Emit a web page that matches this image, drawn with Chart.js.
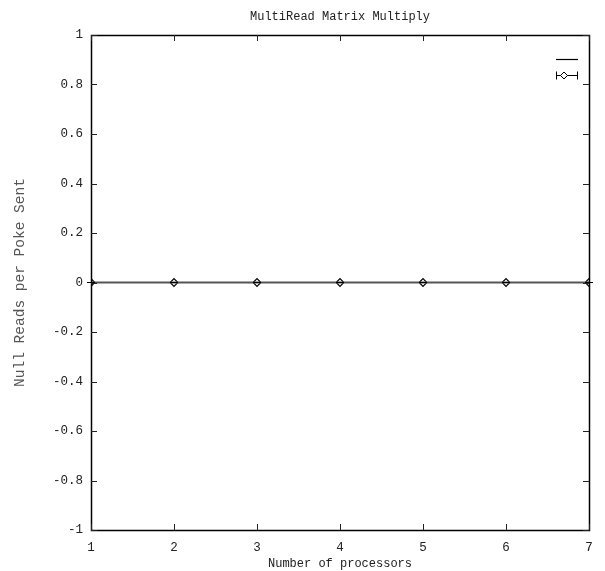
<!DOCTYPE html>
<html>
<head>
<meta charset="utf-8">
<script src="https://cdn.jsdelivr.net/npm/chart.js@4.4.0/dist/chart.umd.min.js"></script>
<style>
  html, body { margin: 0; padding: 0; background: #fff; }
  #wrap { width: 605px; height: 571px; }
</style>
</head>
<body>
<div id="wrap"><canvas id="c" width="605" height="571"></canvas></div>
<script>
const chartTitle = "MultiRead Matrix Multiply";
const xTitle = "Number of processors";
const yTitle = "Null Reads per Poke Sent";
const processors = [1, 2, 3, 4, 5, 6, 7];
const lineValues = [0, 0, 0, 0, 0, 0, 0];
const pointValues = [0, 0, 0, 0, 0, 0, 0];
const pointErrors = [0, 0, 0, 0, 0, 0, 0];
const seriesNames = ["", ""];
const xTicks = [1, 2, 3, 4, 5, 6, 7];
const yTicks = [-1, -0.8, -0.6, -0.4, -0.2, 0, 0.2, 0.4, 0.6, 0.8, 1];

const MONO = "'Liberation Mono', 'DejaVu Sans Mono', monospace";

const framePlugin = {
  id: 'frame',
  afterDatasetsDraw(chart) {
    const ctx = chart.ctx;
    const a = chart.chartArea;
    const xs = chart.scales.x, ys = chart.scales.y;
    ctx.save();
    // error bars for dataset 2
    ctx.strokeStyle = '#000';
    ctx.lineWidth = 1;
    pointValues.forEach((v, i) => {
      const px = xs.getPixelForValue(processors[i]);
      const yl = ys.getPixelForValue(v - pointErrors[i]);
      const yh = ys.getPixelForValue(v + pointErrors[i]);
      ctx.beginPath();
      ctx.moveTo(px, yl); ctx.lineTo(px, yh);
      ctx.moveTo(px - 4, yl); ctx.lineTo(px + 4, yl);
      ctx.moveTo(px - 4, yh); ctx.lineTo(px + 4, yh);
      ctx.stroke();
    });
    // frame
    ctx.strokeStyle = '#000';
    ctx.lineWidth = 1.5;
    ctx.strokeRect(Math.round(a.left) + 0.5, Math.round(a.top) + 0.5, Math.round(a.right - a.left), Math.round(a.bottom - a.top));
    // inward ticks
    ctx.lineWidth = 1;
    ctx.strokeStyle = '#222';
    const tl = 6;
    xTicks.forEach(t => {
      const px = Math.round(xs.getPixelForValue(t)) + 0.5;
      ctx.beginPath();
      ctx.moveTo(px, a.bottom); ctx.lineTo(px, a.bottom - tl);
      ctx.moveTo(px, a.top); ctx.lineTo(px, a.top + tl);
      ctx.stroke();
    });
    yTicks.forEach(t => {
      const py = Math.round(ys.getPixelForValue(t)) + 0.5;
      ctx.beginPath();
      ctx.moveTo(a.left, py); ctx.lineTo(a.left + tl, py);
      ctx.moveTo(a.right, py); ctx.lineTo(a.right - tl, py);
      ctx.stroke();
    });
    // title
    ctx.fillStyle = '#222';
    ctx.font = "12px " + MONO;
    ctx.textAlign = 'center';
    ctx.textBaseline = 'middle';
    ctx.fillText(chartTitle, (a.left + a.right) / 2, 17);
    // legend (empty labels)
    const lx1 = a.right - 33, lx2 = a.right - 11;
    ctx.strokeStyle = '#000';
    ctx.lineWidth = 1.2;
    ctx.beginPath();
    ctx.moveTo(lx1, a.top + 24.5); ctx.lineTo(lx2, a.top + 24.5);
    ctx.stroke();
    const ly = a.top + 40.5;
    ctx.lineWidth = 1;
    ctx.beginPath();
    ctx.moveTo(lx1, ly); ctx.lineTo(lx2, ly);
    ctx.moveTo(lx1 + 0.5, ly - 4); ctx.lineTo(lx1 + 0.5, ly + 4);
    ctx.moveTo(lx2 - 0.5, ly - 4); ctx.lineTo(lx2 - 0.5, ly + 4);
    ctx.stroke();
    const dx = lx1 + 8;
    ctx.fillStyle = '#fff';
    ctx.beginPath();
    ctx.moveTo(dx, ly - 3.5); ctx.lineTo(dx + 3.5, ly); ctx.lineTo(dx, ly + 3.5); ctx.lineTo(dx - 3.5, ly); ctx.closePath();
    ctx.fill(); ctx.stroke();
    ctx.restore();
  }
};

new Chart(document.getElementById('c'), {
  type: 'line',
  data: {
    datasets: [
      {
        label: seriesNames[0],
        data: processors.map((x, i) => ({ x, y: lineValues[i] })),
        borderColor: '#555',
        borderWidth: 2,
        pointRadius: 0,
        fill: false,
        tension: 0
      },
      {
        label: seriesNames[1],
        data: processors.map((x, i) => ({ x, y: pointValues[i] })),
        showLine: false,
        pointStyle: 'rectRot',
        pointRadius: 3.8,
        pointBorderWidth: 1.2,
        pointBorderColor: '#000',
        pointBackgroundColor: '#fff'
      }
    ]
  },
  options: {
    responsive: false,
    animation: false,
    devicePixelRatio: 1,
    layout: { padding: { top: 35, right: 16, left: 0, bottom: 0 } },
    plugins: {
      legend: { display: false },
      title: { display: false },
      tooltip: { enabled: false }
    },
    scales: {
      x: {
        type: 'linear',
        min: 1, max: 7,
        afterBuildTicks: s => { s.ticks = xTicks.map(v => ({ value: v })); },
        afterFit: s => { s.height = 41; },
        grid: { display: false, drawTicks: false },
        border: { display: false },
        ticks: {
          padding: 10,
          color: '#222',
          font: { family: MONO, size: 12.5 },
          callback: v => String(v),
          maxRotation: 0,
          autoSkip: false
        },
        title: {
          display: true,
          text: xTitle,
          color: '#222',
          font: { family: MONO, size: 12 },
          padding: { top: 0, bottom: 0 }
        }
      },
      y: {
        type: 'linear',
        min: -1, max: 1,
        afterBuildTicks: s => { s.ticks = yTicks.map(v => ({ value: v })); },
        afterFit: s => { s.width = 91; },
        grid: { display: false, drawTicks: false },
        border: { display: false },
        ticks: {
          padding: 8,
          color: '#222',
          font: { family: MONO, size: 12.5 },
          callback: v => String(Math.round(v * 10) / 10),
          autoSkip: false
        },
        title: {
          display: true,
          text: yTitle,
          color: '#555',
          font: { family: MONO, size: 14.5 },
          padding: { top: 11, bottom: 0 }
        }
      }
    }
  },
  plugins: [framePlugin]
});
</script>
</body>
</html>
